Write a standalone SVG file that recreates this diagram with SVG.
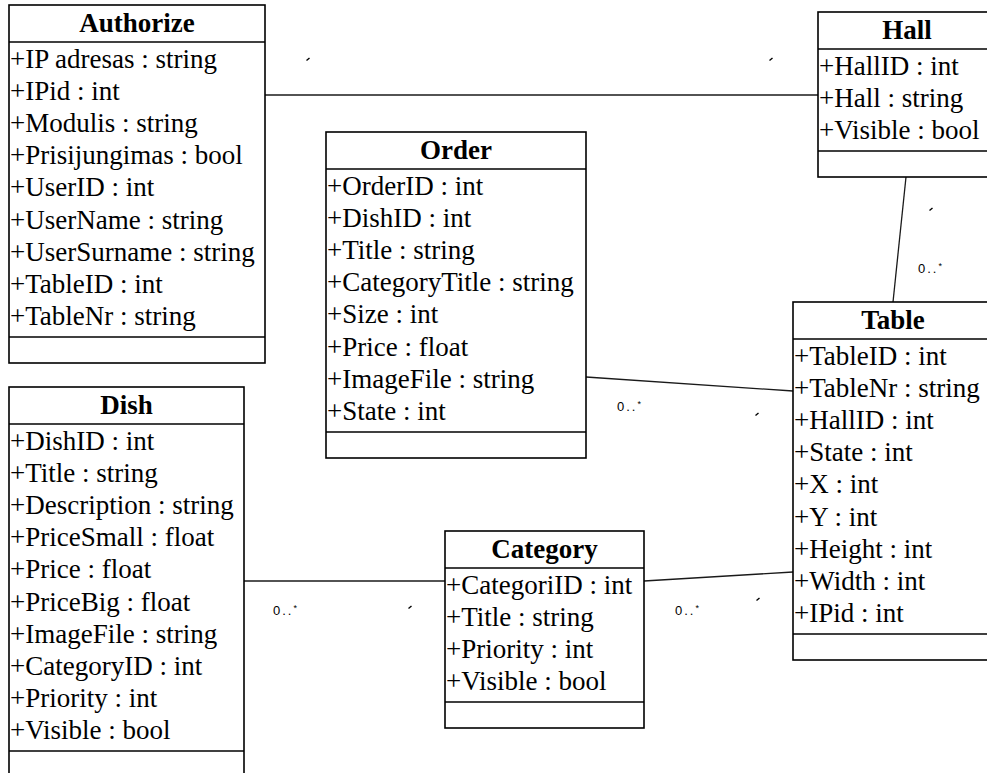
<svg xmlns="http://www.w3.org/2000/svg" width="987" height="773" viewBox="0 0 987 773">
  <style>
    .box { fill: #ffffff; stroke: #000000; stroke-width: 1.6; }
    .sep { stroke: #000000; stroke-width: 1.6; }
    .title { font-family: "Liberation Serif", "Times New Roman", serif; font-size: 27px; font-weight: bold; text-anchor: middle; fill: #000; }
    .attr { font-family: "Liberation Serif", "Tinos", "Times New Roman", "DejaVu Serif", serif; font-size: 27px; font-weight: 400; font-style: normal; fill: #000; }
    .link { stroke: #1a1a1a; stroke-width: 1.3; fill: none; }
    .tick { stroke: #000; stroke-width: 1.4; fill: none; }
    .mult { font-family: "Liberation Sans", Arial, sans-serif; font-size: 13px; letter-spacing: 2px; fill: #000; }
    .star { font-size: 9px; }
  </style>

  <!-- associations -->
  <g id="connectors">
    <line class="link" x1="265" y1="95" x2="818" y2="95"/>
    <line class="link" x1="906" y1="177" x2="893" y2="302"/>
    <line class="link" x1="586" y1="377" x2="793" y2="391"/>
    <line class="link" x1="244" y1="581" x2="445" y2="581"/>
    <line class="link" x1="644" y1="581" x2="793" y2="572"/>

    <path class="tick" d="M306.5 60.5 L309.5 58"/>
    <path class="tick" d="M769.5 60.5 L772.5 58"/>
    <path class="tick" d="M929.5 210.5 L932.5 208"/>
    <path class="tick" d="M755.5 415.5 L758.5 413"/>
    <path class="tick" d="M408.5 608.5 L411.5 606"/>
    <path class="tick" d="M756.5 600.5 L759.5 598"/>

    <text class="mult" x="918" y="273">0..<tspan class="star" dy="-4">*</tspan></text>
    <text class="mult" x="617" y="411">0..<tspan class="star" dy="-4">*</tspan></text>
    <text class="mult" x="273" y="615">0..<tspan class="star" dy="-4">*</tspan></text>
    <text class="mult" x="675" y="615">0..<tspan class="star" dy="-4">*</tspan></text>
  </g>

  <g id="authorize">
    <rect class="box" x="9" y="5" width="256" height="358"/>
    <line class="sep" x1="9" y1="42" x2="265" y2="42"/>
    <line class="sep" x1="9" y1="337" x2="265" y2="337"/>
    <text class="title" x="137" y="32">Authorize</text>
    <text class="attr" x="10" y="68">+IP adresas : string</text>
    <text class="attr" x="10" y="100">+IPid : int</text>
    <text class="attr" x="10" y="132">+Modulis : string</text>
    <text class="attr" x="10" y="164">+Prisijungimas : bool</text>
    <text class="attr" x="10" y="196">+UserID : int</text>
    <text class="attr" x="10" y="229">+UserName : string</text>
    <text class="attr" x="10" y="261">+UserSurname : string</text>
    <text class="attr" x="10" y="293">+TableID : int</text>
    <text class="attr" x="10" y="325">+TableNr : string</text>
  </g>

  <g id="hall">
    <rect class="box" x="818" y="12" width="178" height="165"/>
    <line class="sep" x1="818" y1="49" x2="996" y2="49"/>
    <line class="sep" x1="818" y1="151" x2="996" y2="151"/>
    <text class="title" x="907" y="39">Hall</text>
    <text class="attr" x="819" y="75">+HallID : int</text>
    <text class="attr" x="819" y="107">+Hall : string</text>
    <text class="attr" x="819" y="139">+Visible : bool</text>
  </g>

  <g id="order">
    <rect class="box" x="326" y="132" width="260" height="326"/>
    <line class="sep" x1="326" y1="169" x2="586" y2="169"/>
    <line class="sep" x1="326" y1="432" x2="586" y2="432"/>
    <text class="title" x="456" y="159">Order</text>
    <text class="attr" x="327" y="195">+OrderID : int</text>
    <text class="attr" x="327" y="227">+DishID : int</text>
    <text class="attr" x="327" y="259">+Title : string</text>
    <text class="attr" x="327" y="291">+CategoryTitle : string</text>
    <text class="attr" x="327" y="323">+Size : int</text>
    <text class="attr" x="327" y="356">+Price : float</text>
    <text class="attr" x="327" y="388">+ImageFile : string</text>
    <text class="attr" x="327" y="420">+State : int</text>
  </g>

  <g id="table">
    <rect class="box" x="793" y="302" width="200" height="358"/>
    <line class="sep" x1="793" y1="339" x2="993" y2="339"/>
    <line class="sep" x1="793" y1="634" x2="993" y2="634"/>
    <text class="title" x="893" y="329">Table</text>
    <text class="attr" x="794" y="365">+TableID : int</text>
    <text class="attr" x="794" y="397">+TableNr : string</text>
    <text class="attr" x="794" y="429">+HallID : int</text>
    <text class="attr" x="794" y="461">+State : int</text>
    <text class="attr" x="794" y="493">+X : int</text>
    <text class="attr" x="794" y="526">+Y : int</text>
    <text class="attr" x="794" y="558">+Height : int</text>
    <text class="attr" x="794" y="590">+Width : int</text>
    <text class="attr" x="794" y="622">+IPid : int</text>
  </g>

  <g id="dish">
    <rect class="box" x="9" y="387" width="235" height="392"/>
    <line class="sep" x1="9" y1="424" x2="244" y2="424"/>
    <line class="sep" x1="9" y1="751" x2="244" y2="751"/>
    <text class="title" x="126.5" y="414">Dish</text>
    <text class="attr" x="10" y="450">+DishID : int</text>
    <text class="attr" x="10" y="482">+Title : string</text>
    <text class="attr" x="10" y="514">+Description : string</text>
    <text class="attr" x="10" y="546">+PriceSmall : float</text>
    <text class="attr" x="10" y="578">+Price : float</text>
    <text class="attr" x="10" y="611">+PriceBig : float</text>
    <text class="attr" x="10" y="643">+ImageFile : string</text>
    <text class="attr" x="10" y="675">+CategoryID : int</text>
    <text class="attr" x="10" y="707">+Priority : int</text>
    <text class="attr" x="10" y="739">+Visible : bool</text>
  </g>

  <g id="category">
    <rect class="box" x="445" y="531" width="199" height="197"/>
    <line class="sep" x1="445" y1="568" x2="644" y2="568"/>
    <line class="sep" x1="445" y1="702" x2="644" y2="702"/>
    <text class="title" x="544.5" y="558">Category</text>
    <text class="attr" x="446" y="594">+CategoriID : int</text>
    <text class="attr" x="446" y="626">+Title : string</text>
    <text class="attr" x="446" y="658">+Priority : int</text>
    <text class="attr" x="446" y="690">+Visible : bool</text>
  </g>
</svg>
